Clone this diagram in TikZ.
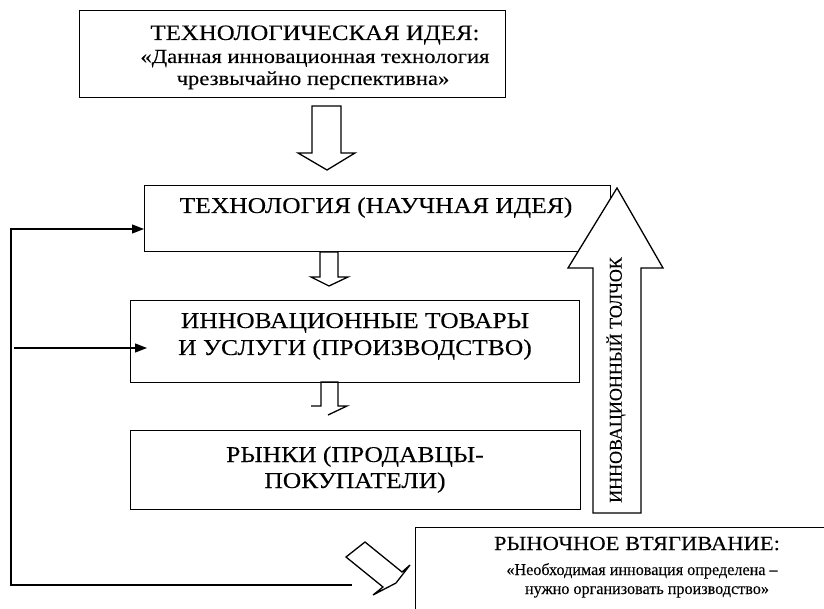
\documentclass[tikz,border=0pt]{standalone}
\usepackage{fontspec}
\setmainfont[FakeStretch=1.13,FakeBold=0.1]{Liberation Serif}
\newfontfamily\rotfont[FakeBold=0.1]{Liberation Serif}
\newfontfamily\narrowfont[FakeStretch=0.98,FakeBold=0.1]{Liberation Serif}
\usetikzlibrary{arrows.meta}
\begin{document}
\begin{tikzpicture}[x=1pt,y=-1pt,
  box/.style={draw, line width=1.3pt, fill=white, inner sep=0pt, anchor=north west},
  fat/.style={draw, line width=1.3pt, fill=white, line join=miter},
  txt/.style={anchor=base, inner sep=0pt},
  feed/.style={line width=1.3pt, -{Triangle[length=12pt,width=9pt]}},
  big/.style={font=\fontsize{22.6}{26}\selectfont},
  mid/.style={font=\fontsize{20}{23}\selectfont},
  small/.style={font=\narrowfont\fontsize{16.5}{19}\selectfont},
]
\useasboundingbox (0,0) rectangle (824,609);
% boxes
\node[box, minimum width=426pt, minimum height=87pt] (b1) at (79,10) {};
\node[box, minimum width=466pt, minimum height=66pt] (b2) at (144,185) {};
\node[box, minimum width=449pt, minimum height=82pt] (b3) at (130,300) {};
\node[box, minimum width=450pt, minimum height=79pt] (b4) at (130,430) {};
\node[box, minimum width=500pt, minimum height=120pt] (b5) at (415,527) {};
% texts
\node[txt, font=\fontsize{22}{26}\selectfont] (t1a) at (315,40) {ТЕХНОЛОГИЧЕСКАЯ ИДЕЯ:};
\node[txt, mid] (t1b) at (315,63) {«Данная инновационная технология};
\node[txt, mid] (t1c) at (313,85) {чрезвычайно перспективна»};
\node[txt, big] (t2) at (376,213) {ТЕХНОЛОГИЯ (НАУЧНАЯ ИДЕЯ)};
\node[txt, big] (t3a) at (355,328) {ИННОВАЦИОННЫЕ ТОВАРЫ};
\node[txt, big] (t3b) at (355,355) {И УСЛУГИ (ПРОИЗВОДСТВО)};
\node[txt, big] (t4a) at (355,462) {РЫНКИ (ПРОДАВЦЫ-};
\node[txt, big] (t4b) at (355,488) {ПОКУПАТЕЛИ)};
\node[txt, mid] (t5a) at (637,550) {РЫНОЧНОЕ ВТЯГИВАНИЕ:};
\node[txt, small] (t5b) at (642,575) {«Необходимая инновация определена –};
\node[txt, small] (t5c) at (647,594) {нужно организовать производство»};
% fat arrows
\draw[fat] (312,106) -- (341,106) -- (341,153) -- (355,153) -- (327,170) -- (298,153) -- (312,153) -- cycle;
\draw[fat] (320,252) -- (338,252) -- (338,277) -- (348,277) -- (329,286) -- (311,277) -- (320,277) -- cycle;
\draw[line width=1.3pt, line join=miter] (311,406) -- (321,406) -- (321,382) -- (338,382) -- (338,406) -- (347,406) -- (328,415);
\draw[fat] (593,513) -- (593,268) -- (568,268) -- (617,188) -- (663,268) -- (641,268) -- (641,513) -- cycle;
\node[rotate=90, inner sep=0pt, font=\rotfont\fontsize{18}{20}\selectfont] (rt) at (616,380) {ИННОВАЦИОННЫЙ ТОЛЧОК};
\draw[fat] (365,542) -- (402,572) -- (410,565) -- (396,583) -- (373,595) -- (383,587) -- (346,557) -- cycle;
% feedback connectors
\coordinate (c1) at (352,585);
\coordinate (c2) at (11,585);
\coordinate (c3) at (11,229);
\coordinate (c4) at (14,348);
\coordinate (c5) at (147,348);
\draw[feed] (c1) -- (c2) -- (c3) -- (b2.west |- c3);
\draw[feed] (c4) -- (c5);
\end{tikzpicture}
\end{document}
